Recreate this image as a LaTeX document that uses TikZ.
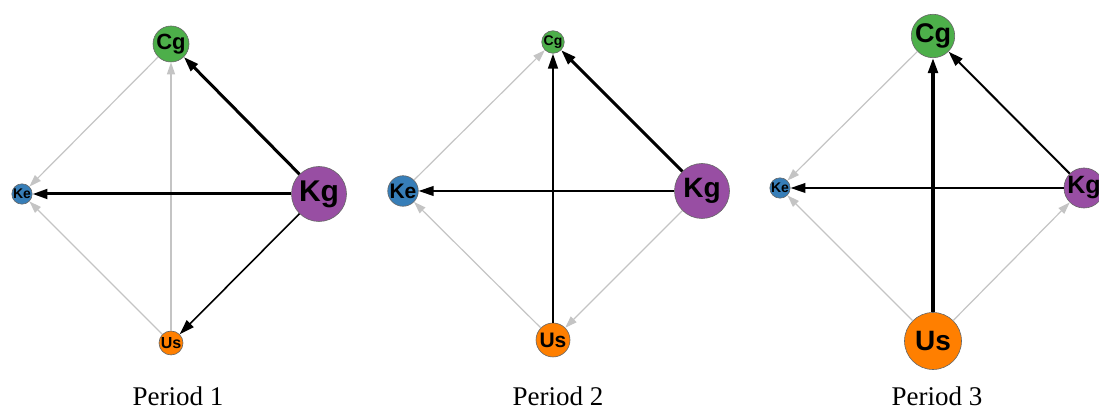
\documentclass[tikz,border=0pt]{standalone}
\usepackage{fontspec}
\setmainfont{Liberation Serif}
\newfontfamily\vertexfont{Liberation Sans}
\usetikzlibrary{arrows.meta}

\definecolor{cgcol}{HTML}{4DAF4A}
\definecolor{kecol}{HTML}{377EB8}
\definecolor{kgcol}{HTML}{984EA3}
\definecolor{uscol}{HTML}{FF7F00}
\definecolor{weakcol}{HTML}{C4C4C4}

% vertex font of a given size
\newcommand{\vfs}[1]{\vertexfont\bfseries\fontsize{#1}{#1}\selectfont}

\begin{document}
\begin{tikzpicture}[x=0.5pt, y=-0.5pt,
    vertex/.style={circle, draw=black!60, line width=0.3pt, inner sep=0pt, text=black},
    strong/.style={draw=black, line width=#1, -{Triangle[length=7.5pt, width=4.8pt]}},
    weak/.style={draw=weakcol, line width=0.6pt, -{Triangle[length=6pt, width=4pt]}},
    caption/.style={anchor=base, font=\fontsize{13.5}{15}\selectfont}]
    \useasboundingbox (0,0) rectangle (1099,410);
    \clip (0,0) rectangle (1099,410);

    % Period 1
    \node (cg1) [vertex, fill=cgcol, minimum size=18pt, font=\vfs{11}] at (171,44) {Cg};
    \node (ke1) [vertex, fill=kecol, minimum size=10pt, font=\vfs{7}] at (22,194) {Ke};
    \node (kg1) [vertex, fill=kgcol, minimum size=27.5pt, font=\vfs{15}] at (319,194) {Kg};
    \node (us1) [vertex, fill=uscol, minimum size=12pt, font=\vfs{8}] at (171,343) {Us};
    \node (cap1) [caption] at (178,406) {Period 1};

    \draw[weak] (cg1) -- (ke1);
    \draw[weak] (us1) -- (ke1);
    \draw[weak] (us1) -- (cg1);
    \draw[strong=1.5pt] (kg1) -- (cg1);
    \draw[strong=1.5pt] (kg1) -- (ke1);
    \draw[strong=0.8pt] (kg1) -- (us1);

    % Period 2
    \node (cg2) [vertex, fill=cgcol, minimum size=10pt, font=\vfs{7}] at (553,42) {Cg};
    \node (ke2) [vertex, fill=kecol, minimum size=15pt, font=\vfs{10.5}] at (403,191) {Ke};
    \node (kg2) [vertex, fill=kgcol, minimum size=27.5pt, font=\vfs{14}] at (702,191) {Kg};
    \node (us2) [vertex, fill=uscol, minimum size=17pt, font=\vfs{10.5}] at (553,340) {Us};
    \node (cap2) [caption] at (558,406) {Period 2};

    \draw[weak] (ke2) -- (cg2);
    \draw[weak] (us2) -- (ke2);
    \draw[weak] (kg2) -- (us2);
    \draw[strong=1.5pt] (kg2) -- (cg2);
    \draw[strong=1pt] (kg2) -- (ke2);
    \draw[strong=1.2pt] (us2) -- (cg2);

    % Period 3
    \node (cg3) [vertex, fill=cgcol, minimum size=21pt, font=\vfs{13.5}] at (933,36) {Cg};
    \node (ke3) [vertex, fill=kecol, minimum size=10pt, font=\vfs{7}] at (780,188) {Ke};
    \node (kg3) [vertex, fill=kgcol, minimum size=20pt, font=\vfs{12.5}] at (1084,188) {Kg};
    \node (us3) [vertex, fill=uscol, minimum size=28.5pt, font=\vfs{14}] at (933,341) {Us};
    \node (cap3) [caption] at (937,406) {Period 3};

    \draw[weak] (cg3) -- (ke3);
    \draw[weak] (us3) -- (ke3);
    \draw[weak] (us3) -- (kg3);
    \draw[strong=1pt] (kg3) -- (cg3);
    \draw[strong=1pt] (kg3) -- (ke3);
    \draw[strong=1.6pt] (us3) -- (cg3);
\end{tikzpicture}
\end{document}
